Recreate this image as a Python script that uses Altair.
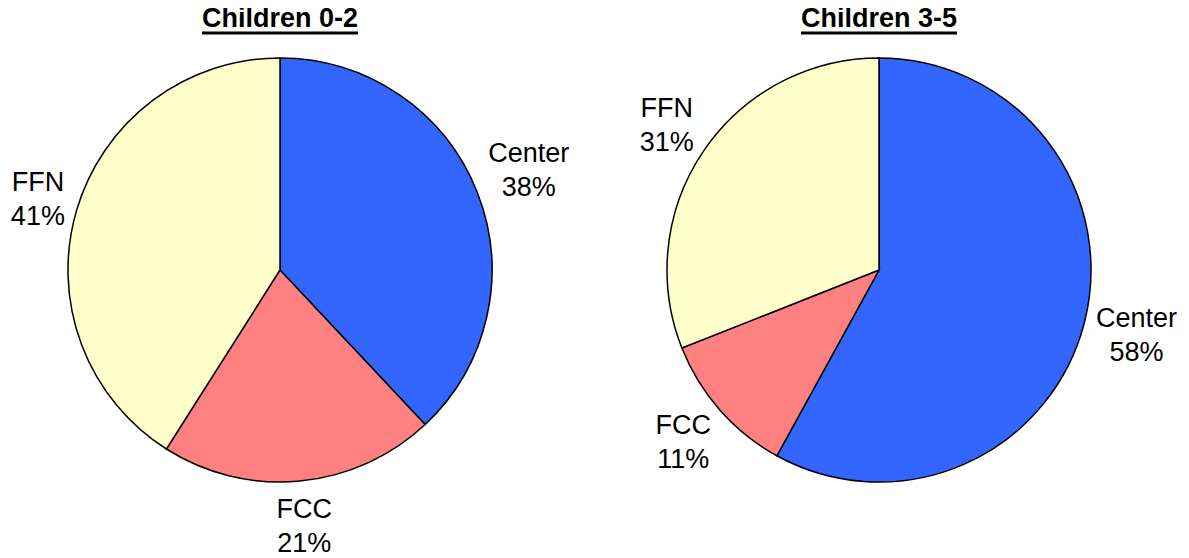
import math
import altair as alt
import pandas as pd

categories = ["Center", "FCC", "FFN"]
colors = ["#3366FF", "#FF8080", "#FFFFCC"]
titles = ["Children 0-2", "Children 3-5"]
values_0_2 = [38, 21, 41]
values_3_5 = [58, 11, 31]

W, H = 1173, 552
FONT = "Liberation Sans"
FS = 27
LH = 34
R = 212
GAP = 12

# approximate Arial/Liberation Sans advance widths (em) for label layout
CW = {"C": .722, "e": .556, "n": .556, "t": .278, "r": .333, "F": .611,
      "N": .722, "%": .889}


def text_w(s):
    return sum(CW.get(ch, .556) for ch in s) * FS


def pie(values, title, cx, cy):
    df = pd.DataFrame({
        "category": categories,
        "value": values,
        "order": list(range(len(categories))),
    })
    df["label"] = [f"{c}\n{v}%" for c, v in zip(df["category"], df["value"])]
    # label distance from centre so the label box sits just outside the pie
    total = sum(values)
    cum = 0
    radii = []
    for c, v in zip(categories, values):
        mid = (cum + v / 2) / total * 2 * math.pi
        cum += v
        hw = max(text_w(c), text_w(f"{v}%")) / 2
        s, co = abs(math.sin(mid)), abs(math.cos(mid))
        ext = min(hw / s if s > 1e-6 else 1e9, LH / co if co > 1e-6 else 1e9)
        radii.append(R + GAP + ext)
    df["lr"] = radii

    arcs = alt.Chart(df).mark_arc(stroke="black", strokeWidth=1.5,
                                  outerRadius=R).encode(
        theta=alt.Theta("value:Q", stack=True),
        order=alt.Order("order:Q"),
        x=alt.value(cx),
        y=alt.value(cy),
        color=alt.Color("category:N",
                        scale=alt.Scale(domain=categories, range=colors),
                        legend=None),
    )
    labels = alt.Chart(df).transform_window(
        cum="sum(value)", sort=[alt.SortField("order")],
        frame=[None, 0]
    ).transform_joinaggregate(
        total="sum(value)"
    ).transform_calculate(
        mid="(datum.cum - datum.value / 2) / datum.total * 2 * PI"
    ).mark_text(font=FONT, fontSize=FS, lineBreak="\n",
                align="center", baseline="middle", dy=-LH / 2,
                color="black", lineHeight=LH).encode(
        theta=alt.Theta("mid:Q", scale=None),
        radius=alt.Radius("lr:Q", scale=None),
        x=alt.value(cx),
        y=alt.value(cy),
        text="label:N",
    )
    tdf = pd.DataFrame({"t": [title]})
    ttl = alt.Chart(tdf).mark_text(font=FONT, fontSize=FS, fontWeight="bold",
                                   align="center", baseline="alphabetic",
                                   color="black").encode(
        text="t:N", x=alt.value(cx), y=alt.value(19)
    )
    und = alt.Chart(tdf).mark_rule(color="black", strokeWidth=3).encode(
        x=alt.value(cx - 78), x2=alt.value(cx + 78), y=alt.value(25)
    )
    return [arcs, labels, ttl, und]


layers = pie(values_0_2, titles[0], 272, 262) + \
    pie(values_3_5, titles[1], 871, 262)

chart = alt.layer(*layers).properties(
    width=W, height=H,
    autosize=alt.AutoSizeParams(type="none"),
    padding=0,
).configure(background="white").configure_view(strokeWidth=0, stroke=None)

chart.save("out.html", embed_options={"renderer": "svg", "actions": False})
